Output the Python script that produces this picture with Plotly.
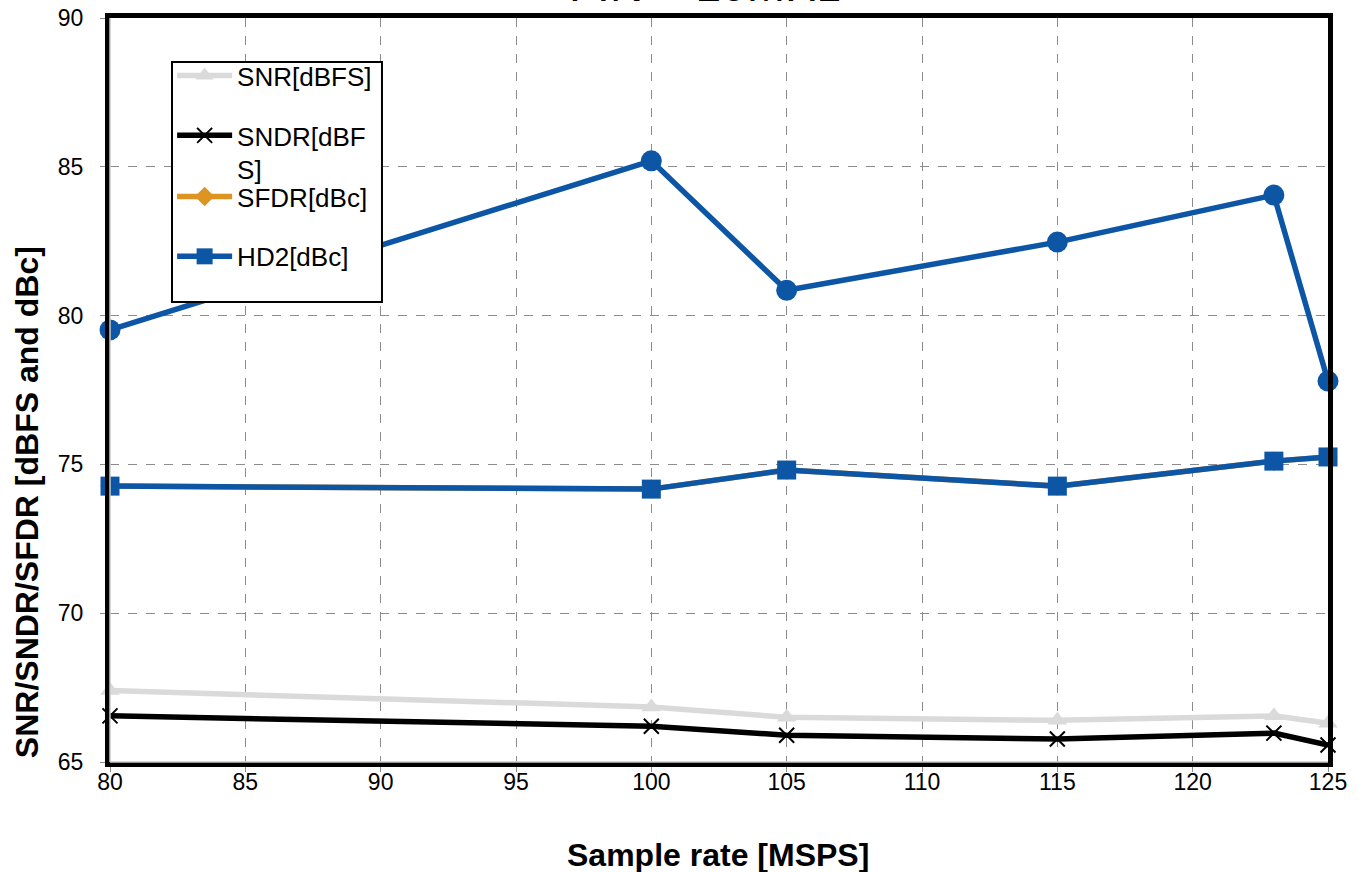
import plotly.graph_objects as go

# Sample rates (MSPS)
sample_rate = [80, 100, 105, 115, 123, 125]

# Measured dynamic performance
snr_dbfs = [67.4, 66.85, 66.5, 66.4, 66.55, 66.3]
sndr_dbfs = [66.55, 66.2, 65.9, 65.77, 65.97, 65.57]
sfdr_dbc = [74.27, 74.17, 74.81, 74.27, 75.11, 75.25]
hd2_dbc = [74.27, 74.17, 74.81, 74.27, 75.11, 75.25]
hd3_dbc = [79.52, 85.2, 80.85, 82.47, 84.05, 77.8]

x_ticks = [80, 85, 90, 95, 100, 105, 110, 115, 120, 125]
y_ticks = [65, 70, 75, 80, 85, 90]

BLUE = "#0D56A6"
GREY = "#DADADA"
ORANGE = "#DD9420"
FONT = "Liberation Sans, Arial, sans-serif"

fig = go.Figure()

fig.add_trace(go.Scatter(
    x=sample_rate, y=snr_dbfs, name="SNR[dBFS]", mode="lines+markers",
    line=dict(color=GREY, width=5.5),
    marker=dict(symbol="triangle-up", size=17, color=GREY),
    cliponaxis=False, legend="legend",
))
fig.add_trace(go.Scatter(
    x=sample_rate, y=sndr_dbfs, name="SNDR[dBF<br>S]", mode="lines+markers",
    line=dict(color="black", width=5.5),
    marker=dict(symbol="x-thin", size=15, color="black",
                line=dict(color="black", width=2)),
    cliponaxis=False, legend="legend2",
))
fig.add_trace(go.Scatter(
    x=sample_rate, y=sfdr_dbc, name="SFDR[dBc]", mode="lines+markers",
    line=dict(color=ORANGE, width=5.5),
    marker=dict(symbol="diamond", size=15, color=ORANGE),
    cliponaxis=False, legend="legend3",
))
fig.add_trace(go.Scatter(
    x=sample_rate, y=hd2_dbc, name="HD2[dBc]", mode="lines+markers",
    line=dict(color=BLUE, width=5.5),
    marker=dict(symbol="square", size=19, color=BLUE),
    cliponaxis=False, legend="legend4",
))
fig.add_trace(go.Scatter(
    x=sample_rate, y=hd3_dbc, name="HD3[dBc]", mode="lines+markers",
    line=dict(color=BLUE, width=5.5),
    marker=dict(symbol="circle", size=21, color=BLUE),
    cliponaxis=False, showlegend=False,
))

axis_common = dict(
    showline=True, linecolor="black", linewidth=5, mirror=True,
    showgrid=True, gridcolor="#8C8C8C", griddash="dash", gridwidth=1,
    ticks="outside", ticklen=5, tickcolor="#8C8C8C", tickwidth=1,
    tickfont=dict(family=FONT, size=23, color="black"),
    zeroline=False, automargin=False,
)


def legend_row(y_top):
    # One legend entry per row so the rows sit on an even pitch
    return dict(
        x=0.051, y=y_top, xanchor="left", yanchor="top",
        bgcolor="rgba(0,0,0,0)", borderwidth=0,
        font=dict(family=FONT, size=26, color="black"),
        itemwidth=55, valign="top",
    )


fig.update_layout(
    width=1368, height=872,
    margin=dict(l=110, r=40, t=18, b=110),
    paper_bgcolor="white", plot_bgcolor="white",
    font=dict(family=FONT, color="black"),
    xaxis=dict(range=[80, 125], tickvals=x_ticks, ticklabelstandoff=-10,
               **axis_common),
    yaxis=dict(range=[65, 90], tickvals=y_ticks, ticklabelstandoff=12,
               **axis_common),
    legend=legend_row(0.9543),
    legend2=legend_row(0.8737),
    legend3=legend_row(0.7917),
    legend4=legend_row(0.7111),
    showlegend=True,
)

# Legend frame
fig.add_shape(type="rect", xref="paper", yref="paper",
              x0=0.0509, x1=0.2233, y0=0.6183, y1=0.9409,
              fillcolor="white", line=dict(color="black", width=2), layer="above")

# Inner light stripe of the double-ruled left and bottom axes
fig.add_shape(type="line", xref="paper", yref="paper", x0=0, x1=0, y0=0, y1=1,
              line=dict(color="#C8C8C8", width=1.5), layer="above")
fig.add_shape(type="line", xref="paper", yref="paper", x0=0, x1=1, y0=0, y1=0,
              line=dict(color="#C8C8C8", width=1.5), layer="above")

# Axis titles
fig.add_annotation(
    text="<b>Sample rate [MSPS]</b>", xref="paper", yref="paper",
    x=0.499, y=-0.125, xanchor="center", yanchor="middle", showarrow=False,
    font=dict(family=FONT, size=32, color="black"),
)
fig.add_annotation(
    text="<b>SNR/SNDR/SFDR [dBFS and dBc]</b>", xref="paper", yref="paper",
    x=-0.068, y=0.3495, xanchor="center", yanchor="middle", showarrow=False,
    textangle=-90, font=dict(family=FONT, size=32, color="black"),
)

# Chart title, running off the top edge of the page
fig.add_annotation(
    text="FIN = 10MHz", xref="paper", yref="paper", x=0.4885, y=1.007,
    xanchor="center", yanchor="bottom", showarrow=False,
    font=dict(family=FONT, size=46, color="black"),
)

fig.write_html("out.html")
